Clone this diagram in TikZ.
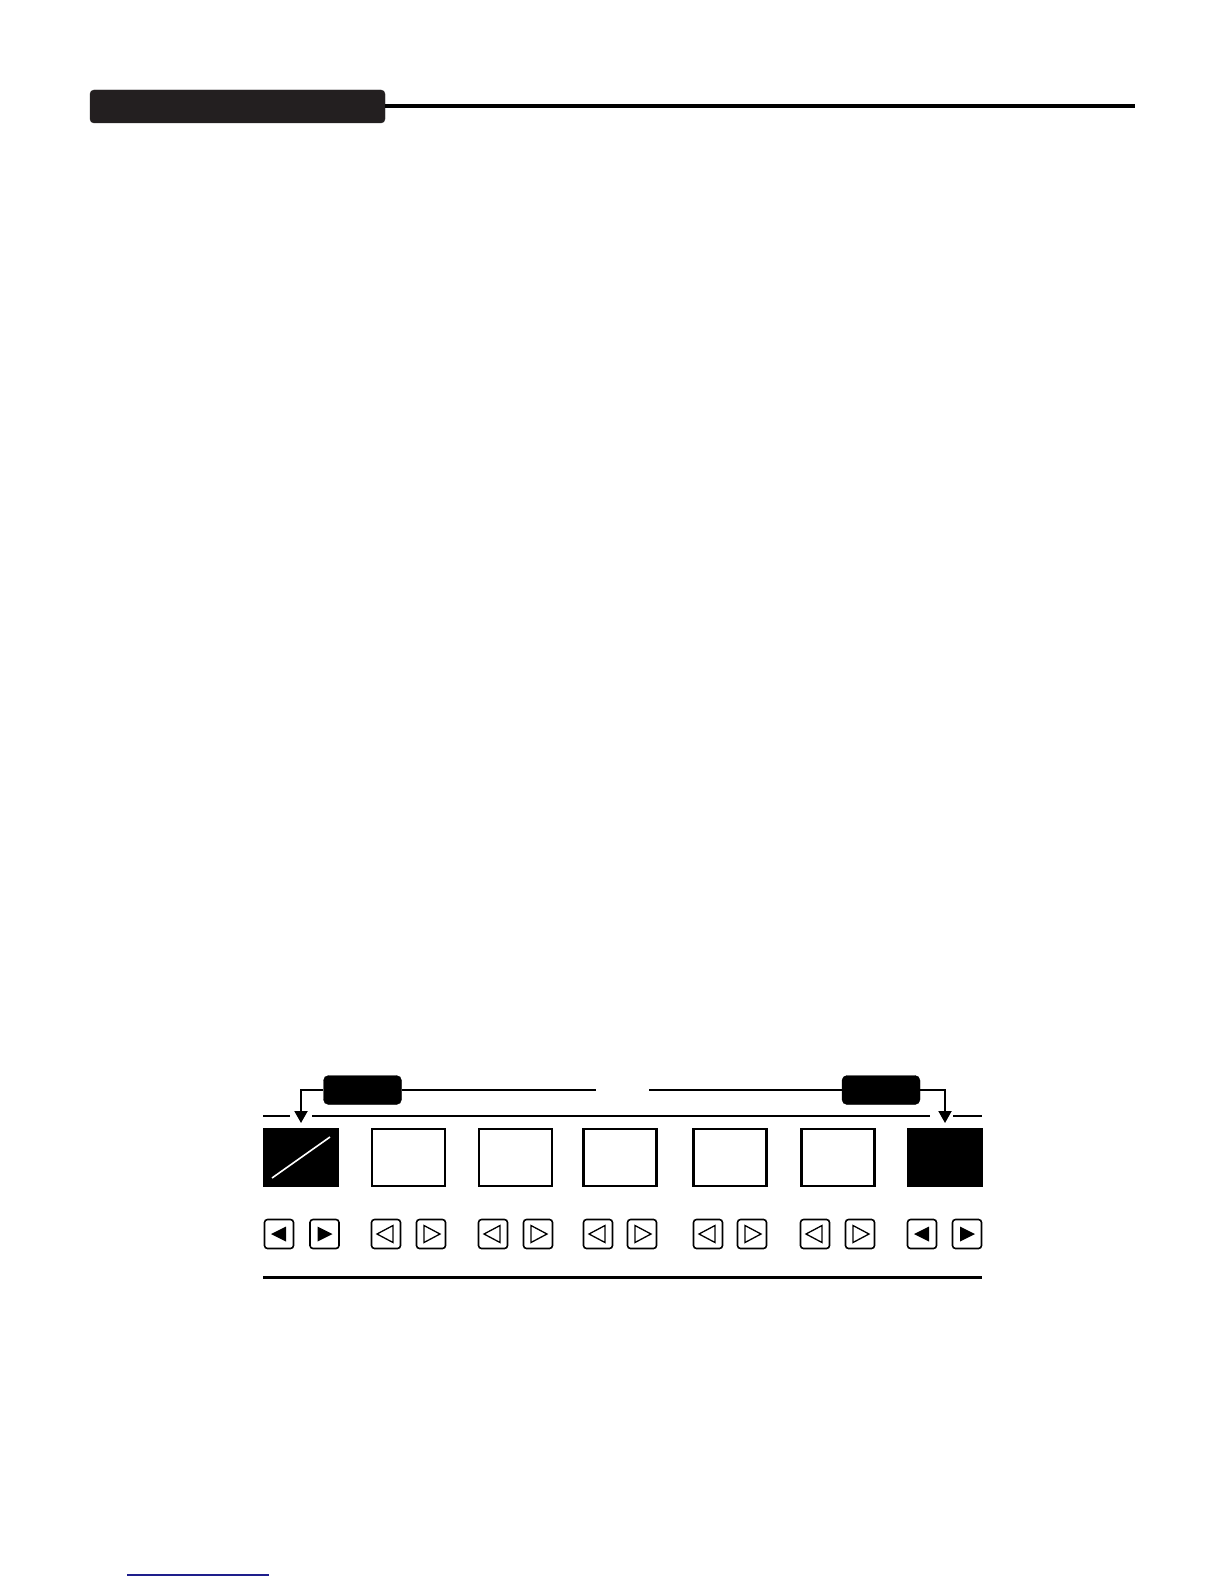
\documentclass[tikz,border=0pt]{standalone}
\usetikzlibrary{arrows.meta,calc}
\definecolor{hdrfill}{HTML}{231F20}
\definecolor{linkblue}{HTML}{1E1E8C}
\tikzset{
  hdrbox/.style={fill=hdrfill,draw=hdrfill,rounded corners=4pt,minimum width=295pt,minimum height=33pt,inner sep=0pt},
  pill/.style={fill=black,draw=black,rounded corners=5pt,minimum width=78pt,minimum height=29pt,inner sep=0pt},
  screen/.style={draw=black,line width=2.4pt,minimum width=73pt,minimum height=57pt,inner sep=0pt},
  darkscreen/.style={screen,fill=black},
  btn/.style={draw=black,line width=1.6pt,rounded corners=3pt,minimum size=29pt,inner sep=0pt},
  conn/.style={line width=2pt},
  tipconn/.style={conn,-{Triangle[length=12pt,width=13pt]}},
  tri/.style={line width=1.3pt,line join=miter},
}
\newcommand{\fleft}[1]{\fill ($(#1)+(-8,0)$) -- ($(#1)+(7,-7.5)$) -- ($(#1)+(7,7.5)$) -- cycle;}
\newcommand{\fright}[1]{\fill ($(#1)+(8,0)$) -- ($(#1)+(-7,-7.5)$) -- ($(#1)+(-7,7.5)$) -- cycle;}
\newcommand{\oleft}[1]{\draw[tri] ($(#1)+(-9,0)$) -- ($(#1)+(7,-8.5)$) -- ($(#1)+(7,8.5)$) -- cycle;}
\newcommand{\oright}[1]{\draw[tri] ($(#1)+(9,0)$) -- ($(#1)+(-7,-8.5)$) -- ($(#1)+(-7,8.5)$) -- cycle;}
\begin{document}
\begin{tikzpicture}[x=1pt,y=-1pt]
\useasboundingbox (0,0) rectangle (1224,1584);
% header
\node[hdrbox] (title) at (237.5,106.5) {};
\coordinate (hdrend) at (1135,106.5);
\draw[line width=4pt] (title.east) -- (hdrend);
% pills
\node[pill] (lp) at (362.5,1090) {};
\node[pill] (rp) at (881,1090) {};
\coordinate (lpend) at (596,1090);
\coordinate (rpstart) at (649,1090);
\draw[conn] (lp.east) -- (lpend);
\draw[conn] (rpstart) -- (rp.west);
\coordinate (ltip) at (301,1123);
\coordinate (rtip) at (945,1123);
\draw[tipconn] (lp.west) -| (ltip);
\draw[tipconn] (rp.east) -| (rtip);
% rail
\coordinate (r1) at (263,1116); \coordinate (r2) at (290,1116);
\coordinate (r3) at (312,1116); \coordinate (r4) at (930,1116);
\coordinate (r5) at (953,1116); \coordinate (r6) at (982,1116);
\draw[conn] (r1) -- (r2);
\draw[conn] (r3) -- (r4);
\draw[conn] (r5) -- (r6);
% screens
\node[darkscreen] (s1) at (301,1157.5) {};
\draw[white,line width=1.6pt] ($(s1.center)+(-29,20.5)$) -- ($(s1.center)+(29,-20.5)$);
\node[screen] (s2) at (408.5,1157.5) {};
\node[screen] (s3) at (515.5,1157.5) {};
\node[screen] (s4) at (620,1157.5) {};
\node[screen] (s5) at (730,1157.5) {};
\node[screen] (s6) at (838,1157.5) {};
\node[darkscreen] (s7) at (945,1157.5) {};
% buttons
\foreach \n/\x in {1/279,2/324.5,3/386,4/431,5/493,6/538,7/598,8/642,9/708,10/752,11/815,12/860,13/922,14/967}{
  \node[btn] (b\n) at (\x,1234) {};
}
\fleft{b1} \fright{b2}
\oleft{b3} \oright{b4}
\oleft{b5} \oright{b6}
\oleft{b7} \oright{b8}
\oleft{b9} \oright{b10}
\oleft{b11} \oright{b12}
\fleft{b13} \fright{b14}
% bottom line
\coordinate (bl1) at (263,1277); \coordinate (bl2) at (982,1277);
\draw[line width=3pt] (bl1) -- (bl2);
% blue link line
\coordinate (u1) at (127,1575); \coordinate (u2) at (269,1575);
\draw[linkblue,line width=1.5pt] (u1) -- (u2);
\end{tikzpicture}
\end{document}
